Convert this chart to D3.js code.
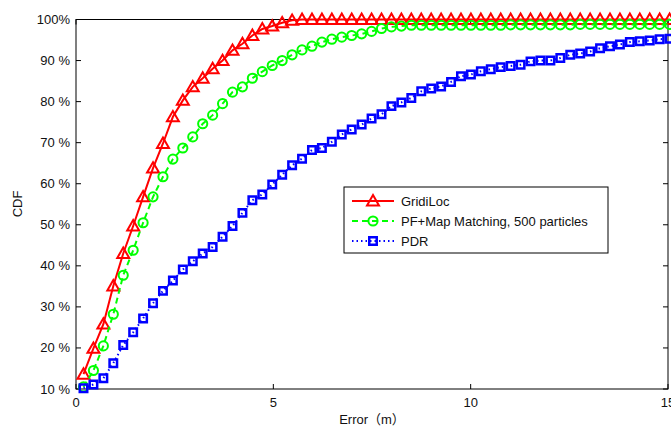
<!DOCTYPE html>
<html lang="en">
<head>
<meta charset="UTF-8">
<title>CDF</title>
<script src="https://cdn.jsdelivr.net/npm/d3@7/dist/d3.min.js"></script>
<style>
  body { margin: 0; background: #fff; }
  svg { display: block; font-family: "Liberation Sans", Arial, "Noto Sans CJK SC", sans-serif; }
</style>
</head>
<body>
<div class="container"></div>
<script>
// error values (m) for each sample
const errors = d3.range(60).map(i => 0.19 + i * 0.2517)

const gridiLoc = [13.6, 19.9, 25.8, 35.1, 43.0, 49.7, 56.8, 63.8, 69.8, 76.3,
  80.3, 83.6, 85.7, 88.0, 90.0, 92.5, 94.1, 96.1, 97.7, 98.4,
  99.2, 99.8, 100, 100, 100, 100, 100, 100, 100, 100,
  100, 100, 100, 100, 100, 100, 100, 100, 100, 100,
  100, 100, 100, 100, 100, 100, 100, 100, 100, 100,
  100, 100, 100, 100, 100, 100, 100, 100, 100, 100]

const pfMap = [10.5, 14.5, 20.5, 28.2, 37.7, 43.8, 50.5, 56.8, 61.7, 66.0,
  68.7, 71.4, 74.6, 76.7, 79.5, 82.3, 83.6, 85.7, 87.3, 88.8,
  90.0, 91.4, 92.6, 93.5, 94.5, 95.2, 95.7, 96.1, 96.5, 97.1,
  97.8, 98.2, 98.4, 98.6, 98.6, 98.6, 98.6, 98.6, 98.6, 98.6,
  98.6, 98.6, 98.6, 98.7, 98.7, 98.7, 98.7, 98.7, 98.7, 98.7,
  98.8, 98.8, 98.8, 98.8, 98.8, 98.8, 98.8, 98.8, 98.8, 98.8]

const pdr = [10.2, 11.1, 12.6, 16.3, 20.7, 23.8, 27.2, 30.9, 33.9, 36.4,
  39.1, 41.1, 43.0, 44.6, 47.1, 49.7, 52.9, 56.0, 57.4, 59.8,
  62.2, 64.5, 66.1, 68.2, 68.7, 70.2, 72.0, 73.2, 74.4, 75.9,
  76.9, 78.9, 79.8, 80.9, 82.5, 83.2, 83.7, 84.8, 86.2, 86.6,
  87.4, 87.9, 88.4, 88.7, 89.0, 89.8, 90.0, 90.0, 90.6, 91.4,
  91.7, 92.2, 93.0, 93.5, 93.9, 94.5, 94.7, 94.9, 95.2, 95.3]

const xTicks = [0, 5, 10, 15]
const yTicks = [10, 20, 30, 40, 50, 60, 70, 80, 90, 100]
const yTickLabels = ["10 %", "20 %", "30 %", "40 %", "50 %", "60 %", "70 %", "80 %", "90 %", "100%"]

const series = [
  { name: "GridiLoc", values: gridiLoc, color: "#ff0000", dash: null, marker: "triangle" },
  { name: "PF+Map Matching, 500 particles", values: pfMap, color: "#00ff00", dash: "6,4", marker: "circle" },
  { name: "PDR", values: pdr, color: "#0000ff", dash: "1.5,3", marker: "square" }
]

const width = 671, height = 428
const margin = { top: 19.5, right: 3, bottom: 39, left: 76 }

const svg = d3.select(".container").append("svg")
  .attr("width", width).attr("height", height)

const x = d3.scaleLinear().domain([0, 15]).range([margin.left, 668])
const y = d3.scaleLinear().domain([10, 100]).range([389, margin.top])

// axes box
const g = svg.append("g")
g.append("rect")
  .attr("x", x(0)).attr("y", y(100))
  .attr("width", x(15) - x(0)).attr("height", y(10) - y(100))
  .attr("fill", "none").attr("stroke", "#000").attr("stroke-width", 1)

// ticks pointing inward on all sides
g.selectAll(".ytl").data(yTicks).join("line")
  .attr("x1", x(0)).attr("x2", x(0) + 5)
  .attr("y1", d => y(d)).attr("y2", d => y(d))
  .attr("stroke", "#000")
g.selectAll(".ytr").data(yTicks).join("line")
  .attr("x1", x(15)).attr("x2", x(15) - 5)
  .attr("y1", d => y(d)).attr("y2", d => y(d))
  .attr("stroke", "#000")
g.selectAll(".xtb").data(xTicks).join("line")
  .attr("x1", d => x(d)).attr("x2", d => x(d))
  .attr("y1", y(10)).attr("y2", y(10) - 5)
  .attr("stroke", "#000")
g.selectAll(".xtt").data(xTicks).join("line")
  .attr("x1", d => x(d)).attr("x2", d => x(d))
  .attr("y1", y(100)).attr("y2", y(100) + 5)
  .attr("stroke", "#000")

svg.selectAll(".ylab").data(yTicks).join("text")
  .attr("x", x(0) - 6).attr("y", d => y(d) + 4.5)
  .attr("text-anchor", "end").attr("font-size", 13).attr("fill", "#111")
  .text((d, i) => yTickLabels[i])

svg.selectAll(".xlab").data(xTicks).join("text")
  .attr("x", d => x(d)).attr("y", y(10) + 18)
  .attr("text-anchor", "middle").attr("font-size", 13).attr("fill", "#111")
  .text(d => d)

svg.append("text")
  .attr("x", 372).attr("y", 424)
  .attr("text-anchor", "middle").attr("font-size", 13).attr("fill", "#111")
  .text("Error（m）")

svg.append("text")
  .attr("transform", "translate(22,204) rotate(-90)")
  .attr("text-anchor", "middle").attr("font-size", 13).attr("fill", "#111")
  .text("CDF")

function markerPath(type) {
  if (type === "triangle") return d3.symbol(d3.symbolTriangle, 62)()
  if (type === "circle") return d3.symbol(d3.symbolCircle, 66)()
  return d3.symbol(d3.symbolSquare, 56)()
}

const line = d3.line().x(d => x(d[0])).y(d => y(d[1]))

series.forEach(s => {
  const pts = errors.map((e, i) => [e, s.values[i]])
  svg.append("path")
    .attr("d", line(pts))
    .attr("fill", "none")
    .attr("stroke", s.color)
    .attr("stroke-width", 2)
    .attr("stroke-dasharray", s.dash)
  svg.append("g").selectAll("path").data(pts).join("path")
    .attr("transform", d => `translate(${x(d[0])},${y(d[1]) + (s.marker === "triangle" ? 1 : 0)})`)
    .attr("d", markerPath(s.marker))
    .attr("fill", "none")
    .attr("stroke", s.color)
    .attr("stroke-width", s.marker === "square" ? 2.5 : 2)
})

// legend
const lg = svg.append("g").attr("transform", "translate(344,187)")
lg.append("rect").attr("width", 264).attr("height", 66)
  .attr("fill", "#fff").attr("stroke", "#000").attr("stroke-width", 1)
series.forEach((s, i) => {
  const cy = 14 + i * 20
  lg.append("line").attr("x1", 8).attr("x2", 50).attr("y1", cy).attr("y2", cy)
    .attr("stroke", s.color).attr("stroke-width", 2).attr("stroke-dasharray", s.dash)
  lg.append("path")
    .attr("transform", `translate(29,${cy + (s.marker === "triangle" ? 1 : 0)})`)
    .attr("d", markerPath(s.marker))
    .attr("fill", "none").attr("stroke", s.color)
    .attr("stroke-width", s.marker === "square" ? 2.5 : 2)
  lg.append("text").attr("x", 57).attr("y", cy + 4.5)
    .attr("font-size", 13).attr("fill", "#111").text(s.name)
})
</script>
</body>
</html>
